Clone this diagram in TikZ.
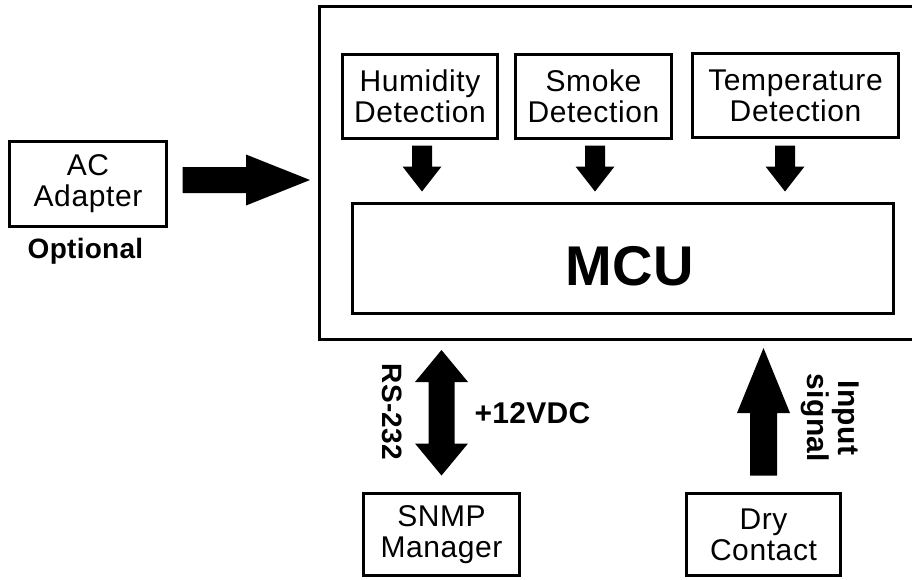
\documentclass[tikz,border=0pt]{standalone}
\usepackage{fontspec}
\setmainfont[LetterSpace=2]{Liberation Sans}
\newfontfamily\boldsans[LetterSpace=1]{Liberation Sans}
\usetikzlibrary{calc}
% vertical fat arrow: #1 start, #2 tip, #3 half shaft, #4 half head, #5 signed head length (canvas)
\newcommand\vfat[5]{\fill let \p1=#1, \p2=#2 in ({\x1-#3},\y1) -- ({\x1+#3},\y1) -- ({\x1+#3},{\y2+#5}) -- ({\x1+#4},{\y2+#5}) -- (\x1,\y2) -- ({\x1-#4},{\y2+#5}) -- ({\x1-#3},{\y2+#5}) -- cycle;}
% horizontal fat arrow pointing right
\newcommand\hfat[5]{\fill let \p1=#1, \p2=#2 in (\x1,{\y1-#3}) -- (\x1,{\y1+#3}) -- ({\x2-#5},{\y1+#3}) -- ({\x2-#5},{\y1+#4}) -- (\x2,\y1) -- ({\x2-#5},{\y1-#4}) -- ({\x2-#5},{\y1-#3}) -- (\x1,{\y1-#3}) -- cycle;}
% double vertical fat arrow: #1 top tip, #2 bottom tip
\newcommand\dfat[5]{\fill let \p1=#1, \p2=#2 in (\x1,\y1) -- ({\x1+#4},{\y1-#5}) -- ({\x1+#3},{\y1-#5}) -- ({\x1+#3},{\y2+#5}) -- ({\x1+#4},{\y2+#5}) -- (\x1,\y2) -- ({\x1-#4},{\y2+#5}) -- ({\x1-#3},{\y2+#5}) -- ({\x1-#3},{\y1-#5}) -- ({\x1-#4},{\y1-#5}) -- cycle;}
\begin{document}
\begin{tikzpicture}[x=1pt,y=-1pt,
  box/.style={draw, line width=3pt, inner sep=0pt, align=center,
    font=\fontsize{30}{31}\selectfont},
  boldlabel/.style={font=\boldsans\fontsize{#1}{#1}\selectfont\bfseries, inner sep=0pt},
  boldlabel/.default=30]
\useasboundingbox[fill=white] (0,0) rectangle (912,579);

% outer enclosure (right side runs off the picture)
\coordinate (oTL) at (319.5,6.5);
\coordinate (oBL) at (319.5,339.5);
\draw[line width=3pt] (914,6.5) -- (oTL) -- (oBL) -- (914,339.5);

% sensor boxes
\node[box, minimum width=155, minimum height=84] (hum) at (420,96.5) {Humidity\\Detection};
\node[box, minimum width=156, minimum height=84] (smk) at (593.5,96.5) {Smoke\\Detection};
\node[box, minimum width=206, minimum height=84] (tmp) at (795.5,95.5) {Temperature\\Detection};

% MCU
\node[box, minimum width=541, minimum height=110] (mcu) at (623,258.5) {};
\node[boldlabel=56, anchor=base] (mcutext) at (629.5,285) {MCU};

% AC adapter
\node[box, minimum width=157, minimum height=85] (ac) at (88,184) {AC\\Adapter};
\node[boldlabel=28, anchor=base] (opt) at (85.5,258) {Optional};

% bottom boxes
\node[box, minimum width=156, minimum height=82] (snmp) at (441.5,534.5) {SNMP\\Manager};
\node[box, minimum width=154, minimum height=82] (dry) at (763.5,534.5) {Dry\\Contact};

% sensor arrows into MCU
\coordinate (h0) at ($(hum.south)+(2,5.5)$);
\coordinate (h1) at ($(h0 |- mcu.north)+(0,-10.5)$);
\coordinate (s0) at ($(smk.south)+(1.5,5.5)$);
\coordinate (s1) at ($(s0 |- mcu.north)+(0,-10.5)$);
\coordinate (t0) at ($(tmp.south)+(-10.5,6.5)$);
\coordinate (t1) at ($(t0 |- mcu.north)+(0,-10.5)$);
\vfat{(h0)}{(h1)}{10}{19.5}{25}
\vfat{(s0)}{(s1)}{10}{19.5}{25}
\vfat{(t0)}{(t1)}{10}{19.5}{25}

% AC adapter arrow
\coordinate (a0) at ($(ac.east)+(14.5,-4)$);
\coordinate (a1) at ($(a0 -| oTL)+(-9.5,0)$);
\hfat{(a0)}{(a1)}{13}{25.5}{64}

% SNMP double arrow
\coordinate (d0) at ($(snmp.north |- oBL)+(0,10.5)$);
\coordinate (d1) at ($(snmp.north)+(0,-16.5)$);
\dfat{(d0)}{(d1)}{13}{26.5}{32}
\node[boldlabel=28, anchor=base, rotate=-90] (rs) at (382.5,412) {RS-232};
\node[boldlabel=30, anchor=base] (v12) at (532.5,423.3) {+12VDC};

% dry contact arrow
\coordinate (u0) at ($(dry.north)+(0,-16.5)$);
\coordinate (u1) at ($(dry.north |- oBL)+(0,8.5)$);
\vfat{(u0)}{(u1)}{13.5}{26.5}{-65}
\node[rotate=-90, align=center, inner sep=0pt, font=\boldsans\fontsize{30}{31}\selectfont\bfseries] (insig) at (830,418) {Input\\signal};
\end{tikzpicture}
\end{document}
